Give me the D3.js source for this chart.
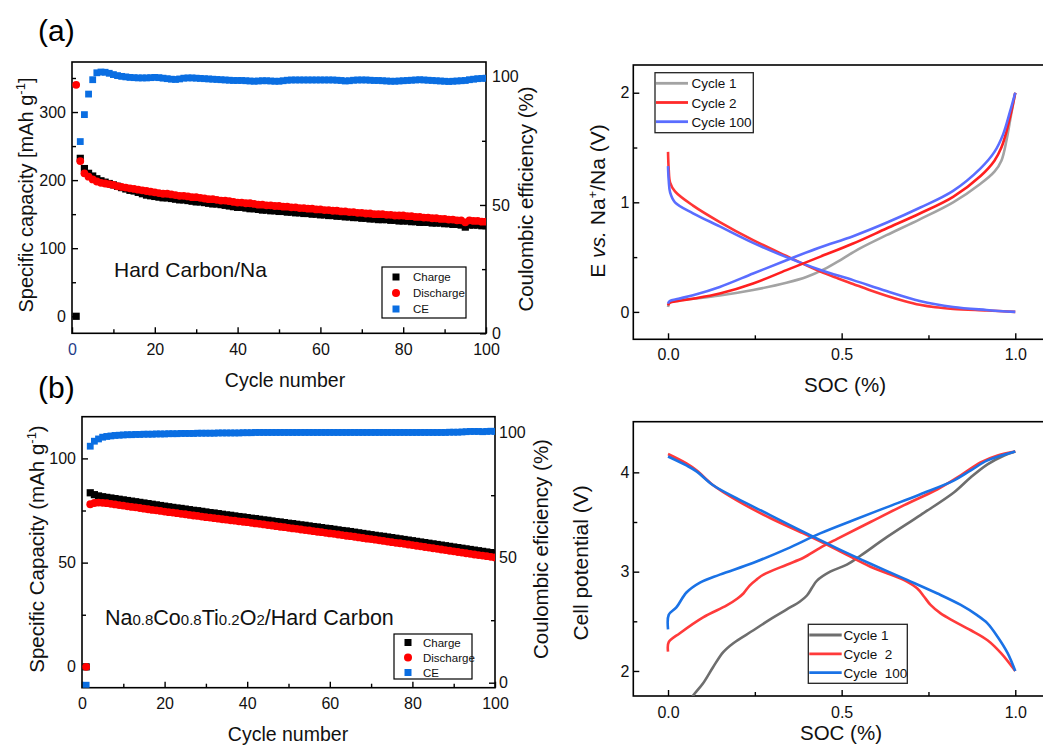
<!DOCTYPE html>
<html>
<head>
<meta charset="utf-8">
<script src="https://cdn.jsdelivr.net/npm/d3@7"></script>
<style>
  body { margin: 0; background: #fff; }
  text { font-family: "Liberation Sans", Arial, sans-serif; }
</style>
</head>
<body>
<div id="chart"></div>
<script>
// ---- data: cycling (panel a, hard carbon / Na half cell) ----
const cycles = d3.range(1, 101);
const chargeA = [0,232,217,210,206,202,199,197,195,193,
  191,189,187,185,184,182,180,178,177,176,
  175,174,174,173,172,171,171,170,169,168,
  168,167,166,165,165,164,163,162,161,160,
  160,159,158,158,157,156,156,155,155,154,
  154,153,153,152,152,151,151,150,150,149,
  149,148,148,147,147,146,146,145,145,144,
  144,143,143,142,142,142,141,141,140,140,
  140,139,139,138,138,138,137,137,137,136,
  136,135,135,134,131,134,134,134,133,133];
const dischargeA = [340,228,210,205,201,198,196,195,194,193,
  191,190,189,188,187,186,185,184,183,182,
  181,180,180,179,178,177,177,176,175,175,
  174,173,172,172,171,170,170,169,168,167,
  167,166,166,165,164,164,163,163,162,162,
  161,161,160,160,159,159,158,158,157,157,
  156,156,155,155,154,154,153,153,152,152,
  151,151,150,150,150,149,149,148,148,148,
  147,147,146,146,145,145,144,144,143,143,
  142,142,141,141,138,141,140,140,139,139];
const ceA = [null,74.7,85.2,93.2,98.8,101.5,101.8,101.7,101.3,100.8,
  100.4,100.1,99.9,99.7,99.6,99.5,99.5,99.5,99.6,99.7,
  99.6,99.4,99.2,99.0,98.9,99.1,99.4,99.5,99.5,99.4,
  99.3,99.2,99.1,99.0,98.9,98.8,98.7,98.6,98.5,98.5,
  98.5,98.4,98.3,98.2,98.3,98.4,98.4,98.3,98.2,98.2,
  98.4,98.6,98.7,98.7,98.7,98.7,98.7,98.7,98.7,98.7,
  98.7,98.7,98.7,98.6,98.5,98.3,98.4,98.6,98.7,98.7,
  98.7,98.6,98.5,98.5,98.4,98.3,98.2,98.2,98.3,98.4,
  98.5,98.6,98.7,98.8,98.7,98.6,98.5,98.4,98.3,98.2,
  98.1,98.2,98.3,98.4,98.5,98.8,99.0,99.2,99.3,99.4];

// ---- data: cycling (panel b, full cell) ----
const chargeB = [0,83.5,82.6,82.0,81.6,81.3,81.0,80.7,80.4,80.1,
  79.8,79.5,79.2,78.9,78.6,78.3,78.0,77.7,77.4,77.1,
  76.8,76.5,76.2,76.0,75.7,75.4,75.1,74.9,74.6,74.3,
  74.0,73.8,73.5,73.2,72.9,72.7,72.4,72.1,71.9,71.6,
  71.3,71.1,70.8,70.5,70.3,70.0,69.7,69.5,69.2,68.9,
  68.7,68.4,68.1,67.9,67.6,67.3,67.1,66.8,66.5,66.3,
  66.0,65.7,65.4,65.2,64.9,64.6,64.3,64.0,63.7,63.4,
  63.1,62.8,62.6,62.3,62.0,61.7,61.4,61.1,60.8,60.5,
  60.2,59.9,59.6,59.3,59.0,58.7,58.4,58.1,57.8,57.5,
  57.2,56.9,56.6,56.3,56.0,55.7,55.4,55.1,54.8,54.5];
const dischargeB = [0,78.0,78.6,78.8,78.7,78.5,78.2,77.9,77.6,77.3,
  77.0,76.7,76.5,76.2,75.9,75.6,75.3,75.1,74.8,74.5,
  74.2,74.0,73.7,73.4,73.2,72.9,72.6,72.4,72.1,71.8,
  71.6,71.3,71.1,70.8,70.6,70.3,70.1,69.8,69.6,69.4,
  69.1,68.8,68.6,68.3,68.0,67.8,67.5,67.2,67.0,66.7,
  66.4,66.2,65.9,65.6,65.4,65.1,64.8,64.6,64.3,64.0,
  63.8,63.5,63.2,62.9,62.7,62.4,62.1,61.8,61.5,61.3,
  61.0,60.7,60.4,60.1,59.8,59.5,59.3,59.0,58.7,58.4,
  58.1,57.8,57.5,57.2,56.9,56.6,56.3,56.0,55.7,55.4,
  55.1,54.8,54.5,54.2,53.9,53.6,53.4,53.1,52.8,52.5];
const ceB = [-1,94.6,96.6,97.5,98.2,98.5,98.7,98.9,99.0,99.1,
  99.2,99.2,99.3,99.3,99.4,99.4,99.4,99.5,99.5,99.5,
  99.6,99.6,99.6,99.7,99.7,99.7,99.7,99.8,99.8,99.8,
  99.8,99.8,99.9,99.9,99.9,99.9,99.9,99.9,100.0,100.0,
  100.0,100.1,100.1,100.1,100.1,100.1,100.1,100.1,100.1,100.1,
  100.1,100.1,100.1,100.1,100.1,100.1,100.1,100.1,100.1,100.1,
  100.1,100.1,100.1,100.1,100.1,100.1,100.1,100.1,100.1,100.1,
  100.1,100.1,100.1,100.1,100.1,100.1,100.1,100.1,100.1,100.1,
  100.1,100.1,100.1,100.1,100.1,100.1,100.1,100.1,100.2,100.2,
  100.2,100.3,100.4,100.5,100.5,100.5,100.4,100.5,100.6,100.5];

// ---- data: voltage profiles, [SOC, V] ----
const aC1Charge = [[0,0.045],[0.005,0.085],[0.03,0.105],[0.072,0.12],[0.149,0.15],[0.245,0.2],[0.341,0.265],[0.4,0.32],[0.45,0.39],[0.5,0.48],[0.55,0.575],[0.629,0.70],[0.725,0.845],[0.821,1.0],[0.9,1.17],[0.94,1.28],[0.96,1.38],[0.975,1.57],[0.988,1.8],[1,2.0]];
const aC2Charge = [[0,0.06],[0.005,0.085],[0.03,0.1],[0.072,0.12],[0.149,0.167],[0.245,0.259],[0.341,0.381],[0.437,0.502],[0.533,0.624],[0.629,0.761],[0.725,0.898],[0.821,1.05],[0.9,1.24],[0.94,1.38],[0.96,1.5],[0.975,1.65],[0.988,1.82],[1,2.0]];
const aC100Charge = [[0,0.075],[0.005,0.1],[0.03,0.12],[0.072,0.152],[0.149,0.228],[0.245,0.35],[0.341,0.472],[0.437,0.588],[0.533,0.691],[0.629,0.813],[0.725,0.95],[0.821,1.105],[0.9,1.31],[0.94,1.46],[0.965,1.62],[0.985,1.83],[1,2.0]];
const aC2Discharge = [[0,1.46],[0.002,1.3],[0.006,1.18],[0.02,1.1],[0.072,0.97],[0.149,0.82],[0.245,0.655],[0.341,0.51],[0.437,0.37],[0.49,0.305],[0.533,0.255],[0.58,0.2],[0.629,0.148],[0.68,0.1],[0.725,0.065],[0.77,0.042],[0.821,0.028],[0.917,0.013],[1,0]];
const aC100Discharge = [[0,1.33],[0.002,1.2],[0.006,1.09],[0.02,1.0],[0.072,0.9],[0.149,0.78],[0.245,0.63],[0.341,0.5],[0.437,0.385],[0.533,0.29],[0.629,0.19],[0.725,0.1],[0.821,0.045],[0.917,0.018],[1,0]];

const bC1Charge = [[0.065,1.70],[0.072,1.75],[0.101,1.876],[0.13,2.04],[0.159,2.19],[0.188,2.28],[0.246,2.41],[0.294,2.52],[0.342,2.62],[0.38,2.7],[0.40,2.76],[0.415,2.84],[0.429,2.91],[0.467,3.0],[0.515,3.07],[0.554,3.16],[0.631,3.35],[0.727,3.57],[0.824,3.8],[0.872,3.95],[0.92,4.08],[0.968,4.17],[1,4.21]];
const bC2Charge = [[0,2.195],[0.002,2.29],[0.034,2.38],[0.101,2.54],[0.169,2.66],[0.2,2.73],[0.217,2.78],[0.235,2.86],[0.255,2.92],[0.275,2.97],[0.342,3.07],[0.39,3.14],[0.438,3.24],[0.487,3.33],[0.583,3.5],[0.68,3.67],[0.776,3.83],[0.843,3.97],[0.9,4.1],[0.949,4.17],[1,4.21]];
const bC100Charge = [[0,2.42],[0.002,2.565],[0.024,2.64],[0.053,2.79],[0.092,2.89],[0.149,2.97],[0.246,3.09],[0.342,3.23],[0.438,3.385],[0.535,3.52],[0.631,3.65],[0.727,3.78],[0.824,3.92],[0.872,4.02],[0.92,4.12],[1,4.21]];
const bC2Discharge = [[0,4.185],[0.053,4.09],[0.082,4.02],[0.13,3.87],[0.197,3.72],[0.294,3.54],[0.39,3.385],[0.487,3.22],[0.583,3.05],[0.68,2.915],[0.718,2.83],[0.737,2.75],[0.756,2.665],[0.785,2.58],[0.824,2.5],[0.872,2.41],[0.92,2.31],[0.959,2.18],[1,2.0]];
const bC100Discharge = [[0,4.16],[0.053,4.07],[0.082,4.01],[0.13,3.87],[0.197,3.74],[0.294,3.57],[0.39,3.4],[0.487,3.235],[0.583,3.08],[0.68,2.93],[0.776,2.78],[0.843,2.665],[0.891,2.56],[0.92,2.48],[0.949,2.345],[0.978,2.18],[1,2.0]];

const cycleTicks = [0, 20, 40, 60, 80, 100];
const cycleMinor = [10, 30, 50, 70, 90];
const socTicks = [0, 0.5, 1.0];
const socMinor = [0.25, 0.75];

const svg = d3.select("#chart").append("svg")
  .attr("width", 1043).attr("height", 745);

let clipId = 0;
function clip(x, y) {
  const id = "clip" + (clipId++);
  svg.append("clipPath").attr("id", id).append("rect")
    .attr("x", x.range()[0]).attr("y", y.range()[1])
    .attr("width", x.range()[1] - x.range()[0])
    .attr("height", y.range()[0] - y.range()[1]);
  return svg.append("g").attr("clip-path", `url(#${id})`);
}

function styleAxis(s, size) {
  s.select(".domain").remove();
  s.selectAll("line").attr("stroke", "#000").attr("stroke-width", 1.4);
  s.selectAll("text").attr("font-size", size).attr("fill", "#111")
    .attr("font-family", '"Liberation Sans", Arial, sans-serif');
}

function axes(x, y, o) {
  const xb = y.range()[0], xl = x.range()[0];
  svg.append("g").attr("transform", `translate(0,${xb})`)
    .call(d3.axisBottom(x).tickValues(o.xTicks).tickSize(-6).tickPadding(o.xPad).tickFormat(o.xFmt))
    .call(s => styleAxis(s, 16));
  svg.append("g").attr("transform", `translate(0,${xb})`)
    .call(d3.axisBottom(x).tickValues(o.xMinor).tickSize(-4).tickFormat(""))
    .call(s => styleAxis(s, 16));
  svg.append("g").attr("transform", `translate(${xl},0)`)
    .call(d3.axisLeft(y).tickValues(o.yTicks).tickSize(-6).tickPadding(o.yPad).tickFormat(d3.format("d")))
    .call(s => styleAxis(s, 16));
  svg.append("g").attr("transform", `translate(${xl},0)`)
    .call(d3.axisLeft(y).tickValues(o.yMinor).tickSize(-4).tickFormat(""))
    .call(s => styleAxis(s, 16));
  svg.append("rect")
    .attr("x", xl).attr("y", y.range()[1])
    .attr("width", x.range()[1] - xl).attr("height", xb - y.range()[1])
    .attr("fill", "none").attr("stroke", "#000").attr("stroke-width", 1.6);
}

function rightAxis(x, y2, ticks, minor, pad) {
  const xr = x.range()[1];
  svg.append("g").attr("transform", `translate(${xr},0)`)
    .call(d3.axisRight(y2).tickValues(ticks).tickSize(-6).tickPadding(pad).tickFormat(d3.format("d")))
    .call(s => styleAxis(s, 16));
  svg.append("g").attr("transform", `translate(${xr},0)`)
    .call(d3.axisRight(y2).tickValues(minor).tickSize(-4).tickFormat(""))
    .call(s => styleAxis(s, 16));
}

function vText(x, y, size) {
  return svg.append("text").attr("transform", `translate(${x},${y}) rotate(-90)`)
    .attr("text-anchor", "middle").attr("font-size", size).attr("fill", "#111");
}

function cycling(o) {
  const x = d3.scaleLinear().domain([0, 100]).range(o.xr);
  const y = d3.scaleLinear().domain(o.yDom).range(o.yr);
  const y2 = d3.scaleLinear().domain(o.y2Dom).range(o.yr);
  axes(x, y, { xTicks: cycleTicks, xMinor: cycleMinor, xFmt: d3.format("d"), xPad: 10,
               yTicks: o.yTicks, yMinor: o.yMinor, yPad: o.yPad });
  rightAxis(x, y2, [0, 50, 100], [25, 75], o.y2Pad);
  const g = clip(x, y);
  g.selectAll(".ch").data(cycles.map((c, i) => [c, o.charge[i]]))
    .join("rect").attr("x", d => x(d[0]) - 3.6).attr("y", d => y(d[1]) - 3.6)
    .attr("width", 7.2).attr("height", 7.2).attr("fill", "#000");
  g.selectAll(".dc").data(cycles.map((c, i) => [c, o.discharge[i]]))
    .join("circle").attr("cx", d => x(d[0])).attr("cy", d => y(d[1]))
    .attr("r", 3.9).attr("fill", "#ff0000");
  g.selectAll(".ce").data(cycles.map((c, i) => [c, o.ce[i]]).filter(d => d[1] != null))
    .join("rect").attr("x", d => x(d[0]) - 3.4).attr("y", d => y2(d[1]) - 3.4)
    .attr("width", 6.8).attr("height", 6.8).attr("fill", "#0a6ee2");

  // legend
  const L = o.legend;
  svg.append("rect").attr("x", L.x).attr("y", L.y).attr("width", L.w).attr("height", L.h)
    .attr("fill", "#fff").attr("stroke", "#000").attr("stroke-width", 1.2);
  const items = [["Charge", "sq", "#000"], ["Discharge", "ci", "#ff0000"], ["CE", "sq", "#0a6ee2"]];
  items.forEach((it, i) => {
    const cy = L.y + L.first + i * L.step;
    if (it[1] === "sq") svg.append("rect").attr("x", L.mx - 3.5).attr("y", cy - 3.5)
      .attr("width", 7).attr("height", 7).attr("fill", it[2]);
    else svg.append("circle").attr("cx", L.mx).attr("cy", cy).attr("r", 4).attr("fill", it[2]);
    svg.append("text").attr("x", L.tx).attr("y", cy + 4).attr("font-size", 11.5)
      .attr("fill", "#111").text(it[0]);
  });
  return { x, y };
}

function profile(o) {
  const x = d3.scaleLinear().domain([-0.1, 1.1]).range([633.3, 1050]);
  const y = d3.scaleLinear().domain(o.yDom).range(o.yr);
  axes(x, y, { xTicks: socTicks, xMinor: socMinor, xFmt: d3.format(".1f"), xPad: o.xPad,
               yTicks: o.yTicks, yMinor: o.yMinor, yPad: 4 });
  const g = clip(x, y);
  const line = d3.line().x(d => x(d[0])).y(d => y(d[1])).curve(d3.curveCatmullRom.alpha(0.5));
  o.curves.forEach(c => {
    g.append("path").attr("d", line(c.data)).attr("fill", "none")
      .attr("stroke", c.color).attr("stroke-width", 2.6).attr("stroke-linejoin", "round");
  });
  const L = o.legend;
  svg.append("rect").attr("x", L.x).attr("y", L.y).attr("width", L.w).attr("height", L.h)
    .attr("fill", "#fff").attr("stroke", "#222").attr("stroke-width", 1.3);
  o.labels.forEach((lb, i) => {
    const cy = L.y + L.first + i * L.step;
    svg.append("line").attr("x1", L.x + 1).attr("x2", L.lx).attr("y1", cy).attr("y2", cy)
      .attr("stroke", lb[1]).attr("stroke-width", 2.8);
    svg.append("text").attr("x", L.tx).attr("y", cy + 5).attr("font-size", 13.5)
      .attr("fill", "#111").style("white-space", "pre").text(lb[0]);
  });
}

// ---------- panel (a) left ----------
cycling({
  xr: [72, 486], yr: [333.3, 62],
  yDom: [-25, 373.5], yTicks: [0, 100, 200, 300], yMinor: [50, 150, 250, 350], yPad: 6,
  y2Dom: [0, 105.7], y2Pad: 6,
  charge: chargeA, discharge: dischargeA, ce: ceA,
  legend: { x: 382, y: 267, w: 84, h: 51, first: 10, step: 16, mx: 396, tx: 413 }
});
svg.selectAll("g text").filter(function () {
  const t = this.parentNode.parentNode.getAttribute("transform") || "";
  return this.textContent === "0" && t === "translate(0,333.3)";
}).attr("fill", "#1f3c88");

// ---------- panel (b) left ----------
cycling({
  xr: [82, 495], yr: [687.7, 416.7],
  yDom: [-10, 120], yTicks: [0, 50, 100], yMinor: [25, 75], yPad: 6,
  y2Dom: [-2, 106.4], y2Pad: 4,
  charge: chargeB, discharge: dischargeB, ce: ceB,
  legend: { x: 394, y: 634, w: 78, h: 45, first: 8.5, step: 15, mx: 408, tx: 423 }
});

// ---------- panel (a) right ----------
profile({
  yDom: [-0.25, 2.253], yr: [339.3, 65], yTicks: [0, 1, 2], yMinor: [0.5, 1.5], xPad: 9,
  curves: [
    { data: aC1Charge, color: "#a3a3a3" },
    { data: aC2Discharge, color: "#ff3535" },
    { data: aC100Discharge, color: "#5a6dff" },
    { data: aC2Charge, color: "#ff1f1f" },
    { data: aC100Charge, color: "#5a6dff" }
  ],
  labels: [["Cycle 1", "#a3a3a3"], ["Cycle 2", "#ff2a2a"], ["Cycle 100", "#5a6dff"]],
  legend: { x: 655, y: 72.7, w: 98.3, h: 60, first: 10.6, step: 19.2, lx: 688, tx: 691.5 }
});

// ---------- panel (b) right ----------
profile({
  yDom: [1.748, 4.51], yr: [696, 421.7], yTicks: [2, 3, 4], yMinor: [2.5, 3.5], xPad: 10.5,
  curves: [
    { data: bC1Charge, color: "#6e6e6e" },
    { data: bC2Discharge, color: "#ff3a3a" },
    { data: bC2Charge, color: "#ff3a3a" },
    { data: bC100Discharge, color: "#1a72e6" },
    { data: bC100Charge, color: "#1a72e6" }
  ],
  labels: [["Cycle 1", "#6e6e6e"], ["Cycle  2", "#ff3a3a"], ["Cycle  100", "#1a72e6"]],
  legend: { x: 808.3, y: 624.3, w: 99, h: 59, first: 10.7, step: 18.8, lx: 841.7, tx: 843.5 }
});

// ---------- texts ----------
svg.append("text").attr("x", 38).attr("y", 41).attr("font-size", 30)
  .attr("font-family", '"Liberation Serif", "Times New Roman", serif').text("(a)");
svg.append("text").attr("x", 38).attr("y", 398).attr("font-size", 30)
  .attr("font-family", '"Liberation Serif", "Times New Roman", serif').text("(b)");

const t1 = vText(33, 195, 20);
t1.append("tspan").text("Specific capacity [mAh g");
t1.append("tspan").attr("dy", -8).attr("font-size", 13).text("-1");
t1.append("tspan").attr("dy", 8).text("]");
vText(533, 199, 20.5).text("Coulombic efficiency (%)");
svg.append("text").attr("x", 285).attr("y", 387).attr("text-anchor", "middle")
  .attr("font-size", 19.5).attr("fill", "#111").text("Cycle number");
svg.append("text").attr("x", 114).attr("y", 277).attr("font-size", 21).attr("fill", "#111")
  .text("Hard Carbon/Na");

const t2 = vText(44, 549, 20.5);
t2.append("tspan").text("Specific Capacity (mAh g");
t2.append("tspan").attr("dy", -8).attr("font-size", 13).text("-1");
t2.append("tspan").attr("dy", 8).text(")");
vText(548, 549, 20.5).text("Coulombic eficiency (%)");
svg.append("text").attr("x", 288).attr("y", 741).attr("text-anchor", "middle")
  .attr("font-size", 19.5).attr("fill", "#111").text("Cycle number");
const t3 = svg.append("text").attr("x", 105).attr("y", 625).attr("font-size", 21.5).attr("fill", "#111");
[["Na", 0], ["0.8", 1], ["Co", 0], ["0.8", 1], ["Ti", 0], ["0.2", 1], ["O", 0], ["2", 1], ["/Hard Carbon", 0]]
  .forEach(p => t3.append("tspan").attr("font-size", p[1] ? 15 : 21.5).text(p[0]));

const t4 = vText(605, 201, 21);
t4.append("tspan").text("E ");
t4.append("tspan").attr("font-style", "italic").text("vs.");
t4.append("tspan").text(" Na");
t4.append("tspan").attr("dy", -8).attr("font-size", 13).text("+");
t4.append("tspan").attr("dy", 8).text("/Na (V)");
svg.append("text").attr("x", 845).attr("y", 392).attr("text-anchor", "middle")
  .attr("font-size", 20.5).attr("fill", "#111").text("SOC (%)");

vText(588, 563, 21).text("Cell potential (V)");
svg.append("text").attr("x", 841).attr("y", 740).attr("text-anchor", "middle")
  .attr("font-size", 20.5).attr("fill", "#111").text("SOC (%)");
</script>
</body>
</html>
